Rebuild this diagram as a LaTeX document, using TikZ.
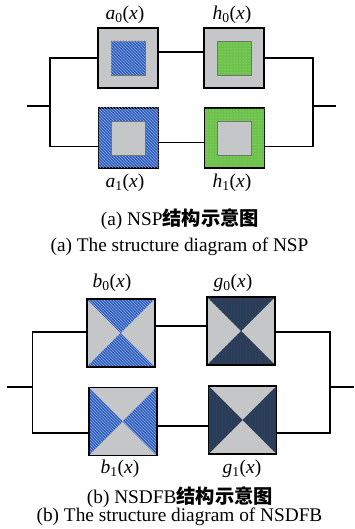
\documentclass[tikz,border=0pt]{standalone}
\usepackage{fontspec}
\setmainfont{Liberation Serif}
\newfontfamily\cjk{Noto Sans CJK SC}
\usetikzlibrary{patterns,backgrounds}
\definecolor{boxgray}{HTML}{C4C6C8}
\definecolor{hblue}{HTML}{2F5FBF}
\definecolor{hgreen}{HTML}{6CC24A}
\definecolor{navy}{HTML}{2D3B57}
\tikzset{
  box/.style={draw=black, line width=1.6pt, minimum size=#1, inner sep=0pt, outer sep=0pt},
  innerbox/.style={draw=black!55, line width=0.6pt, minimum size=34pt, inner sep=0pt, outer sep=0pt},
  wire/.style={line width=1.6pt, line join=miter},
  lbl/.style={font=\fontsize{19.5}{21}\selectfont, inner sep=0pt},
  captxt/.style={font=\fontsize{19.3}{21}\selectfont, inner sep=0pt},
  bluefill/.style={fill=hblue, postaction={pattern=north west lines, pattern color=white!45!hblue}},
  greenfill/.style={fill=hgreen, postaction={pattern=dots, pattern color=white!45!hgreen}},
  navyfill/.style={fill=navy, postaction={pattern=vertical lines, pattern color=navy!88!teal}},
}
\begin{document}
\begin{tikzpicture}[x=1pt,y=-1pt]
\useasboundingbox (0,0) rectangle (354,529);

% ---------- (a) NSP ----------
\node[box=60, fill=boxgray] (a0) at (128,58) {};
\node[innerbox, bluefill] (a0i) at (a0.center) {};
\node[box=60, fill=boxgray] (h0) at (234,58) {};
\node[innerbox, greenfill] (h0i) at (h0.center) {};
\node[box=60, bluefill] (a1) at (128.5,138) {};
\node[innerbox, fill=boxgray] (a1i) at (a1.center) {};
\node[box=60, greenfill] (h1) at (234.5,138) {};
\node[innerbox, fill=boxgray] (h1i) at (h1.center) {};

\coordinate (inA) at (27,106);
\coordinate (jA) at (50,106);
\coordinate (kA) at (313,106);
\coordinate (outA) at (336,106);
\draw[wire] (inA) -- (jA);
\draw[wire] (a0.west) -| (jA) |- (a1.west |- 0,146.7);
\draw[wire] (a0.east |- 0,52.3) -- (h0.west |- 0,52.3);
\draw[wire] (a1.east |- 0,142.7) -- (h1.west |- 0,142.7);
\draw[wire] (h0.east) -| (kA) |- (h1.east |- 0,146.7);
\draw[wire] (kA) -- (outA);

\node[lbl] (la0) at (125,15) {\textit{a}\textsubscript{0}(\textit{x})};
\node[lbl] (lh0) at (232,15) {\textit{h}\textsubscript{0}(\textit{x})};
\node[lbl] (la1) at (125,183) {\textit{a}\textsubscript{1}(\textit{x})};
\node[lbl] (lh1) at (232,183) {\textit{h}\textsubscript{1}(\textit{x})};

\node[captxt] (cap1) at (180,219) {(a) NSP{\cjk\bfseries 结构示意图}};
\node[captxt] (cap2) at (179.5,247) {(a) The structure diagram of NSP};

% ---------- (b) NSDFB ----------
\node[box=68] (b0) at (120.7,333) {};
\node[box=68] (g0) at (241,331) {};
\node[box=68] (b1) at (122.7,421.5) {};
\node[box=68] (g1) at (242.5,420) {};
\begin{scope}[on background layer]
  \fill[boxgray] (b0.north west) rectangle (b0.south east);
  \path[bluefill] (b0.north west) -- (b0.north east) -- (b0.center) -- cycle;
  \path[bluefill] (b0.south west) -- (b0.south east) -- (b0.center) -- cycle;
  \fill[boxgray] (g0.north west) rectangle (g0.south east);
  \path[navyfill] (g0.north west) -- (g0.north east) -- (g0.center) -- cycle;
  \path[navyfill] (g0.south west) -- (g0.south east) -- (g0.center) -- cycle;
  \fill[boxgray] (b1.north west) rectangle (b1.south east);
  \path[bluefill] (b1.north west) -- (b1.south west) -- (b1.center) -- cycle;
  \path[bluefill] (b1.north east) -- (b1.south east) -- (b1.center) -- cycle;
  \fill[boxgray] (g1.north west) rectangle (g1.south east);
  \path[navyfill] (g1.north west) -- (g1.south west) -- (g1.center) -- cycle;
  \path[navyfill] (g1.north east) -- (g1.south east) -- (g1.center) -- cycle;
\end{scope}

\coordinate (inB) at (6.7,386.7);
\coordinate (jB) at (32.3,386.7);
\coordinate (kB) at (330,386.7);
\coordinate (outB) at (354,386.7);
\draw[wire] (inB) -- (jB);
\draw[wire] (b0.west |- 0,331.7) -| (jB) |- (b1.west |- 0,433);
\draw[wire] (b0.east |- 0,326) -- (g0.west |- 0,326);
\draw[wire] (b1.east |- 0,425.7) -- (g1.west |- 0,425.7);
\draw[wire] (g0.east |- 0,331.7) -| (kB) |- (g1.east |- 0,432.7);
\draw[wire] (kB) -- (outB);

\node[lbl] (lb0) at (112,283) {\textit{b}\textsubscript{0}(\textit{x})};
\node[lbl] (lg0) at (233,283) {\textit{g}\textsubscript{0}(\textit{x})};
\node[lbl] (lb1) at (120,469) {\textit{b}\textsubscript{1}(\textit{x})};
\node[lbl] (lg1) at (242,469) {\textit{g}\textsubscript{1}(\textit{x})};

\node[captxt] (cap3) at (180,497) {(b) NSDFB{\cjk\bfseries 结构示意图}};
\node[captxt] (cap4) at (179.5,517) {(b) The structure diagram of NSDFB};
\end{tikzpicture}
\end{document}
